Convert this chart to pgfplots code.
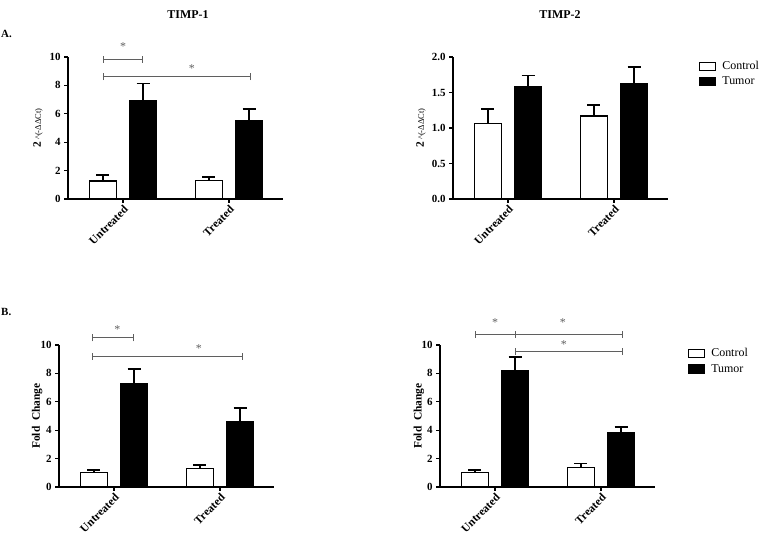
\documentclass[border=0pt]{standalone}
\usepackage{fontspec}
\setmainfont{Liberation Serif}
\usepackage{pgfplots}
\pgfplotsset{compat=1.18}
\definecolor{brk}{RGB}{95,95,95}

\pgfplotsset{
 panel/.style={
  scale only axis, width=215bp, height=142bp,
  xmin=-0.52, xmax=1.51, ymin=0,
  axis lines=left, axis line style={-, line width=1.2bp},
  tick align=outside, major tick length=4bp,
  tick style={line width=1.2bp, black},
  xtick={0,1}, xticklabels={Untreated,Treated},
  x tick label style={rotate=45, anchor=north east, font=\bfseries\fontsize{11.5}{13}\selectfont, inner sep=1bp},
  y tick label style={font=\bfseries\fontsize{11}{12}\selectfont},
  /pgf/number format/assume math mode=true,
  clip=false,
  ybar, bar width=0.255, bar shift=0pt,
  ylabel style={anchor=center, font=\bfseries\fontsize{11.5}{13}\selectfont},
 },
 ctl/.style={fill=white, draw=black, line width=1.2bp,
   legend image code/.code={\draw[##1,line width=1.2bp] (0bp,-4bp) rectangle (16bp,4bp);},
   error bars/.cd, y dir=plus, y explicit,
   error bar style={line width=1.8bp, black},
   error mark options={rotate=90, line width=1.8bp, mark size=6.5bp, black}},
 tum/.style={fill=black, draw=black, line width=1.2bp,
   legend image code/.code={\draw[##1,line width=1.2bp] (0bp,-4bp) rectangle (16bp,4bp);},
   error bars/.cd, y dir=plus, y explicit,
   error bar style={line width=1.8bp, black},
   error mark options={rotate=90, line width=1.8bp, mark size=6.5bp, black}},
 leg/.style={legend style={draw=none, fill=none, anchor=north west,
   font=\fontsize{12}{14}\selectfont, row sep=2bp, inner sep=0pt},
   legend cell align=left},
}
\newcommand{\tck}[2]{\draw[brk, line width=0.9bp] ([yshift=-3.5bp]axis cs:#1,#2) -- ([yshift=3.5bp]axis cs:#1,#2);}
\newcommand{\brkt}[3]{%
  \draw[brk, line width=0.9bp] (axis cs:#1,#3) -- (axis cs:#2,#3);
  \tck{#1}{#3}\tck{#2}{#3}}
\newcommand{\str}[2]{\node[text=brk, font=\fontsize{12}{13}\selectfont, inner sep=0pt] at (axis cs:#1,#2) {*};}

\begin{document}
\begin{tikzpicture}[x=1bp,y=1bp]
\path (0,0) rectangle (761,535);

% titles
\node[font=\bfseries\fontsize{12}{14}\selectfont] at (188,520) {TIMP-1};
\node[font=\bfseries\fontsize{12}{14}\selectfont] at (560,520) {TIMP-2};
\node[font=\bfseries\fontsize{11}{13}\selectfont, anchor=west, inner sep=0pt] at (1,501) {A.};
\node[font=\bfseries\fontsize{11}{13}\selectfont, anchor=west, inner sep=0pt] at (1,223) {B.};

% A1: TIMP-1 2^(-ddCt)
\begin{axis}[panel, at={(68bp,336bp)}, anchor=south west, ymax=10, ytick={0,2,4,6,8,10},
  ylabel={2\,{\mdseries\fontsize{8.5}{9}\selectfont\textasciicircum(-ΔΔCt)}},
  ylabel style={at={(axis description cs:-0.14,0.5)}}]
\addplot[ctl] coordinates {(-0.19,1.26) +- (0,0.43) (0.81,1.31) +- (0,0.24)};
\addplot[tum] coordinates {(0.19,6.96) +- (0,1.17) (1.19,5.55) +- (0,0.77)};
\brkt{-0.19}{0.18}{9.84}
\brkt{-0.19}{1.2}{8.62}
\str{0}{10.7}
\str{0.65}{9.2}
\end{axis}

% A2: TIMP-2 2^(-ddCt)
\begin{axis}[panel, leg, at={(453bp,336bp)}, anchor=south west, ymax=2, ytick={0,0.5,1,1.5,2},
  yticklabel style={/pgf/number format/.cd, fixed, fixed zerofill, precision=1},
  ylabel={2\,{\mdseries\fontsize{8.5}{9}\selectfont\textasciicircum(-ΔΔCt)}},
  ylabel style={at={(axis description cs:-0.149,0.5)}},
  legend style={at={(rel axis cs:1.144,0.985)}}]
\addplot[ctl] coordinates {(-0.19,1.065) +- (0,0.205) (0.81,1.17) +- (0,0.15)};
\addlegendentry{\hspace{4bp}Control}
\addplot[tum] coordinates {(0.19,1.58) +- (0,0.16) (1.19,1.62) +- (0,0.24)};
\addlegendentry{\hspace{4bp}Tumor}
\end{axis}

% B1: TIMP-1 fold change
\begin{axis}[panel, at={(59bp,48bp)}, anchor=south west, ymax=10, ytick={0,2,4,6,8,10},
  ylabel={Fold\ \ Change},
  ylabel style={at={(axis description cs:-0.102,0.5)}}]
\addplot[ctl] coordinates {(-0.19,1.03) +- (0,0.18) (0.81,1.28) +- (0,0.29)};
\addplot[tum] coordinates {(0.19,7.29) +- (0,1.03) (1.19,4.63) +- (0,0.91)};
\brkt{-0.2}{0.18}{10.51}
\brkt{-0.2}{1.21}{9.21}
\str{0.03}{11.05}
\str{0.8}{9.75}
\end{axis}

% B2: TIMP-2 fold change
\begin{axis}[panel, leg, at={(440bp,48bp)}, anchor=south west, ymax=10, ytick={0,2,4,6,8,10},
  ylabel={Fold\ \ Change},
  ylabel style={at={(axis description cs:-0.098,0.5)}},
  legend style={at={(rel axis cs:1.153,0.99)}}]
\addplot[ctl] coordinates {(-0.19,1.0) +- (0,0.21) (0.81,1.36) +- (0,0.30)};
\addlegendentry{\hspace{4bp}Control}
\addplot[tum] coordinates {(0.19,8.18) +- (0,0.98) (1.19,3.81) +- (0,0.42)};
\addlegendentry{\hspace{4bp}Tumor}
\draw[brk, line width=0.9bp] (axis cs:-0.19,10.77) -- (axis cs:1.2,10.77);
\tck{-0.19}{10.77}\tck{0.19}{10.77}\tck{1.2}{10.77}
\brkt{0.19}{1.2}{9.56}
\str{0}{11.6}
\str{0.64}{11.6}
\str{0.65}{10.05}
\end{axis}
\end{tikzpicture}
\end{document}
